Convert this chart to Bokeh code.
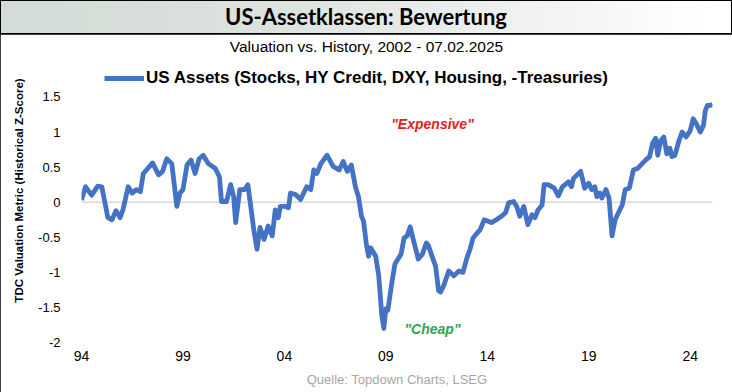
from bokeh.plotting import figure
from bokeh.models import Range1d, FixedTicker, Label, Legend, LegendItem, Span, Div, Title
from bokeh.layouts import column
from bokeh.embed import file_html
from bokeh.resources import INLINE

# ---------------- data ----------------
years = [
    1994.00, 1994.20, 1994.50, 1994.80, 1995.00, 1995.30, 1995.50, 1995.70, 1995.90, 1996.05,
    1996.30, 1996.50, 1996.70, 1996.90, 1997.05, 1997.20, 1997.50, 1997.80, 1998.00, 1998.20,
    1998.45, 1998.70, 1998.85, 1999.00, 1999.20, 1999.40, 1999.60, 1999.80, 2000.00, 2000.25,
    2000.60, 2000.80, 2000.90, 2001.15, 2001.35, 2001.50, 2001.60, 2001.80, 2002.05, 2002.20,
    2002.50, 2002.65, 2002.80, 2003.00, 2003.20, 2003.40, 2003.55, 2003.70, 2003.80, 2004.05,
    2004.20, 2004.30, 2004.55, 2004.80, 2005.10, 2005.30, 2005.45, 2005.60, 2005.80, 2006.10,
    2006.40, 2006.70, 2006.90, 2007.10, 2007.30, 2007.50, 2007.65, 2007.80, 2007.90, 2008.05,
    2008.15, 2008.25, 2008.40, 2008.50, 2008.65, 2008.80, 2008.90, 2009.00, 2009.10, 2009.30,
    2009.45, 2009.60, 2009.75, 2009.90, 2010.05, 2010.20, 2010.35, 2010.60, 2010.80, 2011.00,
    2011.10, 2011.30, 2011.45, 2011.60, 2011.70, 2011.85, 2012.10, 2012.35, 2012.60, 2012.80,
    2013.00, 2013.15, 2013.30, 2013.50, 2013.65, 2013.85, 2014.20, 2014.50, 2014.70, 2014.90,
    2015.05, 2015.30, 2015.45, 2015.60, 2015.80, 2016.00, 2016.20, 2016.35, 2016.50, 2016.70,
    2016.80, 2017.00, 2017.30, 2017.50, 2017.70, 2018.00, 2018.15, 2018.25, 2018.60, 2018.80,
    2019.00, 2019.15, 2019.30, 2019.40, 2019.55, 2019.65, 2019.85, 2020.00, 2020.15, 2020.30,
    2020.50, 2020.65, 2020.80, 2021.00, 2021.20, 2021.40, 2021.60, 2021.80, 2022.00, 2022.15,
    2022.30, 2022.40, 2022.55, 2022.70, 2022.85, 2023.00, 2023.10, 2023.25, 2023.45, 2023.60,
    2023.80, 2024.00, 2024.15, 2024.30, 2024.50, 2024.65, 2024.75, 2024.85, 2025.00, 2025.10,
]
zscore = [
    0.03, 0.22, 0.10, 0.23, 0.22, -0.22, -0.25, -0.12, -0.22, -0.10,
    0.22, 0.13, 0.18, 0.15, 0.41, 0.46, 0.56, 0.39, 0.44, 0.62,
    0.55, -0.06, 0.13, 0.18, 0.53, 0.60, 0.41, 0.62, 0.67, 0.55,
    0.48, 0.36, 0.01, 0.01, 0.25, 0.08, -0.29, 0.18, 0.18, 0.25,
    -0.41, -0.67, -0.36, -0.53, -0.34, -0.48, -0.11, -0.22, -0.06, -0.06,
    -0.08, 0.13, 0.11, 0.04, 0.22, 0.18, 0.46, 0.41, 0.55, 0.67,
    0.51, 0.46, 0.58, 0.44, 0.53, 0.22, 0.08, -0.20, -0.27, -0.62,
    -0.77, -0.65, -0.72, -0.77, -1.05, -1.61, -1.80, -1.52, -1.54, -1.14,
    -0.88, -0.81, -0.74, -0.51, -0.48, -0.35, -0.53, -0.81, -0.74, -0.58,
    -0.62, -0.79, -0.91, -1.26, -1.28, -1.19, -0.98, -1.05, -0.98, -1.00,
    -0.79, -0.67, -0.51, -0.44, -0.39, -0.25, -0.29, -0.24, -0.20, -0.15,
    -0.01, 0.01, -0.06, -0.20, -0.06, -0.32, -0.18, -0.22, -0.11, -0.04,
    0.25, 0.25, 0.20, 0.09, 0.22, 0.29, 0.22, 0.34, 0.44, 0.20,
    0.27, 0.18, 0.22, 0.08, 0.13, 0.06, 0.18, 0.06, -0.48, -0.25,
    -0.13, -0.04, 0.18, 0.20, 0.46, 0.48, 0.54, 0.60, 0.65, 0.84,
    0.91, 0.67, 0.88, 0.93, 0.69, 0.77, 0.65, 0.67, 0.88, 1.00,
    0.93, 1.02, 1.19, 1.12, 1.00, 1.09, 1.31, 1.38, 1.38, 1.40,
]
x_ticks = [1994, 1999, 2004, 2009, 2014, 2019, 2024]
x_tick_labels = ["94", "99", "04", "09", "14", "19", "24"]
y_ticks = [-2, -1.5, -1, -0.5, 0, 0.5, 1, 1.5]
y_tick_labels = ["-2", "-1.5", "-1", "-0.5", "0", "0.5", "1", "1.5"]

title_text = "US-Assetklassen: Bewertung"
subtitle_text = "Valuation vs. History, 2002 - 07.02.2025"
series_name = "US Assets (Stocks, HY Credit, DXY, Housing, -Treasuries)"
y_label = "TDC Valuation Metric (Historical Z-Score)"
source_text = "Quelle: Topdown Charts, LSEG"
expensive_text = '"Expensive"'
cheap_text = '"Cheap"'

W = 732
ARIAL = "Liberation Sans"

# ---------------- header band ----------------
header = Div(
    text=('<div style="width:732px;height:33px;line-height:33px;text-align:center;'
          'font-family:Lato;font-weight:bold;font-size:22px;color:#000;">'
          + title_text + '</div>'),
    width=W, height=34,
    styles={"background": "linear-gradient(to right, #d2dbd5 0%, #dde3df 40%, #f4f6f4 80%, #ffffff 97%)",
            "outline": "1px solid #000", "outline-offset": "-1px", "margin": "0", "padding": "0"},
)

# ---------------- main chart ----------------
p = figure(width=W, height=358, x_range=Range1d(1994.0, 2025.1), y_range=Range1d(-2, 2.334),
           output_backend="svg", toolbar_location=None,
           min_border_left=81, min_border_right=20, min_border_top=4, min_border_bottom=49)
p.outline_line_color = None
p.xgrid.visible = False
p.ygrid.visible = False
p.background_fill_color = "white"
p.styles = {"outline": "1px solid #000", "outline-offset": "-1px"}

p.add_layout(Span(location=0, dimension="width", line_color="#d9d9d9", line_width=1.5,
                  level="underlay"))

r = p.line(years, zscore, line_color="#4472c4", line_width=4.8, line_join="round")

legend = Legend(items=[LegendItem(label=series_name, renderers=[r])], location=(23, 254),
                glyph_width=40, glyph_height=16, label_standoff=2, padding=0, margin=0,
                border_line_color=None, background_fill_alpha=0,
                label_text_font=ARIAL, label_text_font_style="bold", label_text_font_size="17px",
                label_text_color="black")
p.add_layout(legend)

p.xaxis.ticker = FixedTicker(ticks=x_ticks)
p.xaxis.major_label_overrides = {k: v for k, v in zip(x_ticks, x_tick_labels)}
p.yaxis.ticker = FixedTicker(ticks=y_ticks)
p.yaxis.major_label_overrides = {k: v for k, v in zip(y_ticks, y_tick_labels)}
for ax in (p.xaxis[0], p.yaxis[0]):
    ax.axis_line_color = None
    ax.major_tick_line_color = None
    ax.minor_tick_line_color = None
    ax.major_label_text_font = ARIAL
    ax.major_label_text_color = "black"
p.xaxis.major_label_text_font_size = "14px"
p.yaxis.major_label_text_font_size = "13px"
p.xaxis.major_label_standoff = 2
p.yaxis.major_label_standoff = 15
p.yaxis.axis_label = y_label
p.yaxis.axis_label_standoff = 10
p.yaxis.axis_label_text_font = ARIAL
p.yaxis.axis_label_text_font_style = "bold"
p.yaxis.axis_label_text_font_size = "11.5px"
p.yaxis.axis_label_text_color = "black"

p.add_layout(Label(x=285, y=296, x_units="screen", y_units="screen", text=subtitle_text,
                   text_align="center", text_baseline="middle", text_font=ARIAL,
                   text_font_size="15.5px", text_color="black"))
p.add_layout(Label(x=351, y=219, x_units="screen", y_units="screen", text=expensive_text,
                   text_align="center", text_baseline="middle", text_font=ARIAL,
                   text_font_style="bold italic", text_font_size="14px", text_color="#e3211c"))
p.add_layout(Label(x=351, y=14, x_units="screen", y_units="screen", text=cheap_text,
                   text_align="center", text_baseline="middle", text_font=ARIAL,
                   text_font_style="bold italic", text_font_size="14px", text_color="#2fa356"))

p.add_layout(Title(text=source_text, align="center", offset=-30, standoff=12,
                   text_font=ARIAL, text_font_size="13px", text_font_style="normal",
                   text_color="#a6a6a6"), "below")

layout = column(header, p)

open("out.html", "w").write(file_html(layout, INLINE))
